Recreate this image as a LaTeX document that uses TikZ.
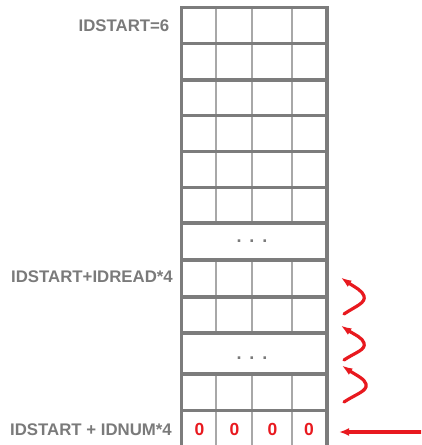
\documentclass[tikz,border=0pt]{standalone}
\usepackage{fontspec}
\setmainfont{Liberation Sans}
\usetikzlibrary{arrows.meta,bending}
\definecolor{framegray}{HTML}{7C7C7C}
\definecolor{cellgray}{HTML}{A8A8A8}
\definecolor{labelgray}{HTML}{7A7A7A}
\definecolor{handred}{HTML}{E8191F}
\begin{document}
\begin{tikzpicture}[x=1pt,y=-1pt,
  frameline/.style={draw=framegray,line width=3.6pt},
  cellline/.style={draw=cellgray,line width=2.2pt},
  lbl/.style={anchor=east,inner sep=0pt,text=labelgray,font=\fontsize{16.8}{18}\selectfont\bfseries},
  zero/.style={inner sep=0pt,text=handred,font=\fontsize{17.5}{18}\selectfont\bfseries},
  dots/.style={anchor=base,inner sep=0pt,text=labelgray,font=\fontsize{18}{18}\selectfont\bfseries},
  handarrow/.style={draw=handred,line width=3.2pt,line cap=round,line join=round,-{Latex[length=10pt,width=8pt]}},
  squiggle/.style={draw=handred,line width=3.2pt,line cap=round,line join=round,-{Latex[length=11pt,width=7.5pt,bend]}}]
\useasboundingbox (0,0) rectangle (421,445);
\clip (0,0) rectangle (421,445);
% thin cell separators
\foreach \x in {216,252,292}{
  \draw[cellline] (\x,7.5) -- (\x,223);
  \draw[cellline] (\x,260) -- (\x,333);
  \draw[cellline] (\x,374) -- (\x,460);
}
% thick row lines
\foreach \y in {43.5,80,115.5,151.5,187.5,223,260,297,333,374,410.5}{
  \draw[frameline] (181.5,\y) -- (327,\y);
}
% outer frame
\draw[frameline] (181.5,460) -- (181.5,7.5) -- (327,7.5) -- (327,460);
% dots
\node[dots] (d1) at (252,242) {.\hspace{8pt}.\hspace{8pt}.};
\node[dots] (d2) at (252,359) {.\hspace{8pt}.\hspace{8pt}.};
% labels
\node[lbl] (l1) at (169.5,25.5) {IDSTART=6};
\node[lbl] (l2) at (173,277) {IDSTART+IDREAD*4};
\node[lbl] (l3) at (172,430) {IDSTART + IDNUM*4};
% zeros
\node[zero] (z1) at (199.5,429) {0};
\node[zero] (z2) at (234.5,429) {0};
\node[zero] (z3) at (272.5,429) {0};
\node[zero] (z4) at (309,429) {0};
% hand-drawn arrows
\coordinate (inA) at (424,432);
\coordinate (inB) at (339,432);
\draw[handarrow] (inA) -- (inB);
\coordinate (s1a) at (344,314); \coordinate (s1m) at (364,296); \coordinate (s1b) at (341,277);
\coordinate (s2a) at (344,360); \coordinate (s2m) at (364,343); \coordinate (s2b) at (341,325);
\coordinate (s3a) at (344,402); \coordinate (s3m) at (366,384); \coordinate (s3b) at (342,365);
\draw[squiggle] (s1a) .. controls +(12,-8) and +(2,7) .. (s1m) .. controls +(-2,-7) and +(8,8) .. (s1b);
\draw[squiggle] (s2a) .. controls +(12,-8) and +(2,7) .. (s2m) .. controls +(-2,-7) and +(8,8) .. (s2b);
\draw[squiggle] (s3a) .. controls +(12,-8) and +(2,7) .. (s3m) .. controls +(-2,-7) and +(8,8) .. (s3b);
\end{tikzpicture}
\end{document}
